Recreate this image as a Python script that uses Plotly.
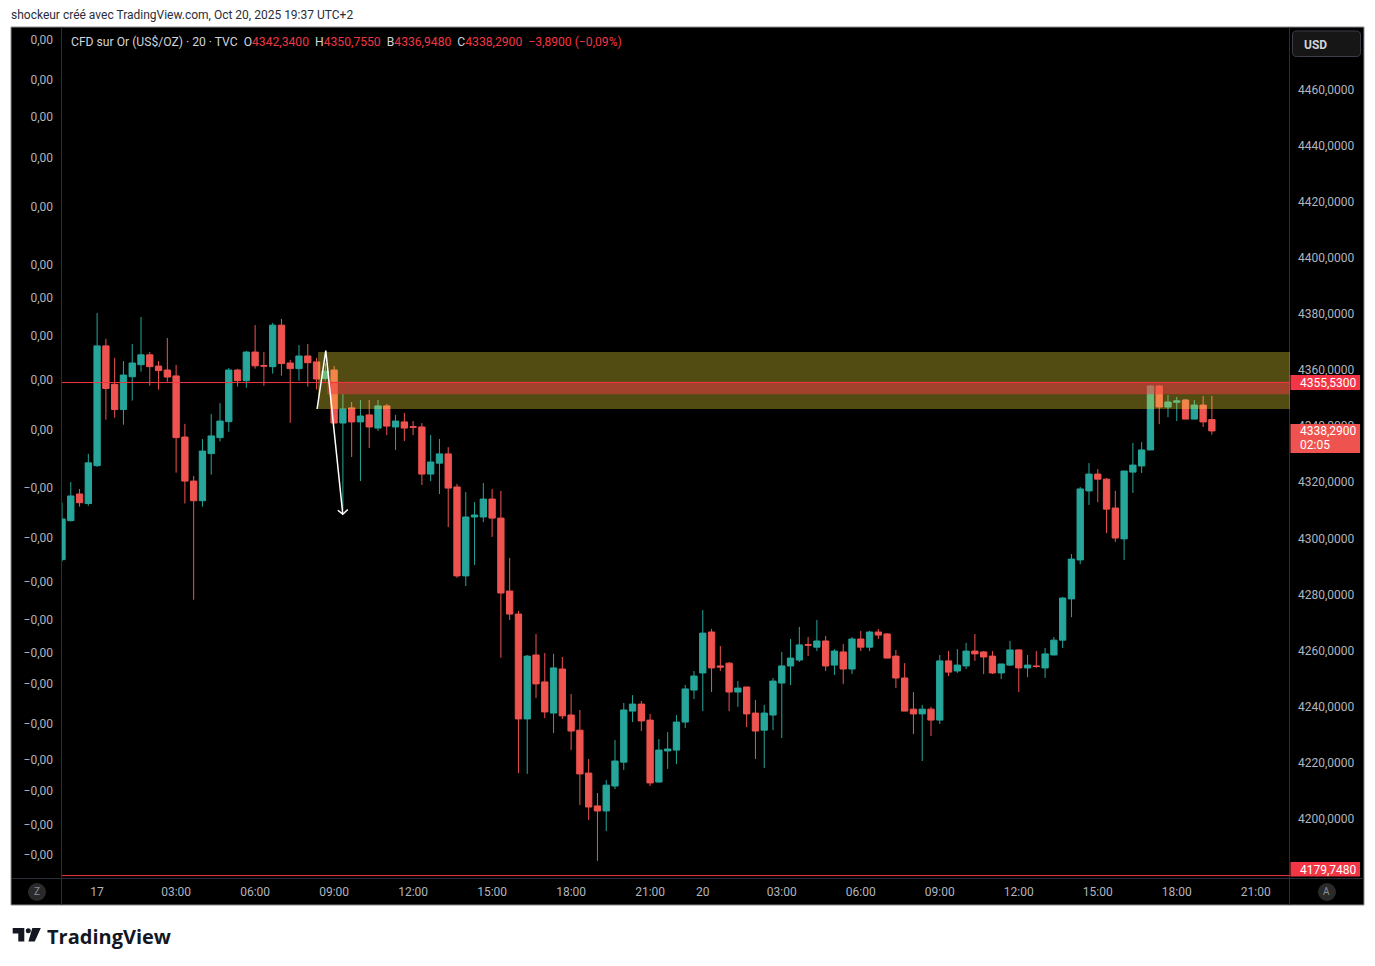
import plotly.graph_objects as go

# ---------------- data (20-minute candles, XAU/USD CFD) ----------------
bar_index = list(range(132))
open_ = [4292.4, 4306.3, 4315.8, 4312.4, 4325.9, 4368.6, 4354.9, 4345.9, 4357.6, 4361.9,
         4365.4, 4361.4, 4360.0, 4357.9, 4336.1, 4320.4, 4313.4, 4330.2, 4335.9, 4341.6,
         4360.0, 4356.2, 4366.4, 4361.6, 4361.2, 4376.0, 4362.5, 4360.5, 4365.0, 4362.9,
         4357.0, 4360.0, 4341.1, 4346.5, 4341.5, 4344.0, 4339.3, 4347.2, 4339.7, 4341.5,
         4339.8, 4339.7, 4322.9, 4326.8, 4330.1, 4318.3, 4286.6, 4307.6, 4307.6, 4314.0,
         4307.2, 4281.2, 4273.0, 4235.6, 4258.4, 4248.8, 4237.7, 4253.4, 4237.0, 4231.6,
         4216.3, 4204.6, 4202.8, 4211.7, 4220.2, 4238.4, 4240.9, 4235.2, 4213.1, 4224.2,
         4224.5, 4234.5, 4245.9, 4252.0, 4266.6, 4254.5, 4255.5, 4245.2, 4247.0, 4237.7,
         4231.6, 4237.0, 4248.4, 4254.5, 4256.6, 4262.1, 4261.2, 4263.4, 4254.8, 4259.5,
         4253.4, 4264.1, 4261.2, 4266.6, 4265.9, 4258.0, 4250.2, 4239.1, 4237.4, 4239.1,
         4235.2, 4256.3, 4252.7, 4254.5, 4259.8, 4259.5, 4258.0, 4252.0, 4254.8, 4260.2,
         4253.8, 4254.5, 4253.8, 4258.4, 4263.7, 4278.4, 4292.3, 4316.9, 4322.9, 4321.1,
         4310.8, 4299.8, 4323.6, 4325.8, 4331.5, 4354.3, 4346.8, 4348.5, 4349.3, 4342.5,
         4347.5, 4342.34]
high = [4312.7, 4320.1, 4317.6, 4330.1, 4380.3, 4371.1, 4364.3, 4363.2, 4369.3, 4378.9,
        4366.4, 4363.2, 4371.4, 4361.8, 4340.8, 4322.2, 4335.4, 4344.3, 4348.2, 4360.7,
        4360.4, 4366.8, 4376.0, 4366.4, 4376.8, 4378.2, 4363.6, 4368.9, 4369.3, 4364.3,
        4362.4, 4361.4, 4351.4, 4348.6, 4349.3, 4349.3, 4349.3, 4347.9, 4344.0, 4344.7,
        4341.8, 4341.1, 4336.8, 4335.4, 4332.5, 4319.4, 4316.5, 4312.9, 4319.7, 4317.6,
        4316.9, 4293.0, 4274.1, 4258.4, 4265.9, 4259.1, 4258.8, 4257.7, 4244.5, 4238.8,
        4221.3, 4209.2, 4213.8, 4228.1, 4241.3, 4244.1, 4242.0, 4237.4, 4228.4, 4230.9,
        4237.0, 4247.7, 4252.7, 4274.4, 4267.7, 4261.6, 4255.9, 4249.1, 4247.0, 4242.4,
        4240.6, 4250.2, 4259.5, 4264.1, 4268.4, 4264.8, 4270.9, 4265.2, 4260.5, 4262.3,
        4264.8, 4267.0, 4267.0, 4267.7, 4266.2, 4260.2, 4255.5, 4245.2, 4240.6, 4239.9,
        4258.4, 4259.8, 4260.5, 4262.7, 4265.9, 4259.8, 4259.8, 4255.2, 4263.4, 4260.5,
        4258.4, 4259.8, 4260.9, 4264.8, 4279.1, 4294.4, 4318.3, 4326.8, 4324.7, 4321.5,
        4316.9, 4324.0, 4334.0, 4334.3, 4354.7, 4354.7, 4351.1, 4350.4, 4349.7, 4349.3,
        4350.7, 4350.755]
low = [4291.7, 4306.0, 4311.3, 4311.6, 4325.5, 4342.3, 4343.0, 4340.5, 4349.1, 4359.4,
       4354.4, 4353.0, 4355.8, 4323.4, 4312.4, 4278.1, 4311.3, 4322.7, 4334.5, 4338.0,
       4354.1, 4353.7, 4360.5, 4354.4, 4358.7, 4358.0, 4341.2, 4356.2, 4354.1, 4353.0,
       4356.2, 4341.0, 4310.1, 4329.0, 4320.4, 4332.2, 4338.3, 4336.8, 4331.5, 4334.7,
       4336.8, 4319.0, 4320.4, 4315.8, 4304.0, 4285.9, 4283.0, 4290.5, 4305.8, 4300.5,
       4257.4, 4270.9, 4216.3, 4216.0, 4243.1, 4235.9, 4230.6, 4235.6, 4224.5, 4204.9,
       4199.6, 4185.0, 4195.6, 4210.6, 4217.4, 4234.5, 4231.3, 4211.7, 4213.1, 4217.8,
       4219.5, 4232.4, 4242.7, 4238.4, 4245.2, 4252.7, 4238.4, 4239.9, 4232.7, 4221.3,
       4218.1, 4231.6, 4228.8, 4247.7, 4255.9, 4258.0, 4259.8, 4252.7, 4251.3, 4248.1,
       4251.6, 4259.8, 4259.8, 4264.1, 4257.3, 4246.6, 4238.4, 4230.2, 4220.6, 4229.5,
       4233.8, 4250.9, 4252.0, 4253.4, 4256.3, 4251.6, 4251.6, 4249.8, 4254.5, 4245.2,
       4250.5, 4253.8, 4250.2, 4258.4, 4260.9, 4271.9, 4290.8, 4311.9, 4312.9, 4301.9,
       4298.7, 4292.3, 4316.2, 4323.3, 4331.5, 4340.7, 4343.2, 4341.8, 4342.5, 4342.5,
       4339.7, 4336.948]
close = [4306.9, 4315.1, 4312.7, 4326.9, 4368.6, 4353.4, 4345.9, 4358.2, 4362.5, 4365.4,
         4361.2, 4359.8, 4357.5, 4335.9, 4320.4, 4313.4, 4331.1, 4336.5, 4341.8, 4360.0,
         4356.2, 4366.4, 4361.5, 4361.4, 4376.0, 4362.3, 4360.5, 4365.0, 4362.6, 4356.8,
         4359.6, 4341.1, 4346.1, 4341.5, 4343.6, 4339.7, 4347.2, 4340.0, 4341.8, 4339.3,
         4339.6, 4322.9, 4327.2, 4330.1, 4317.9, 4286.6, 4307.6, 4308.3, 4314.0, 4307.2,
         4280.5, 4273.0, 4235.6, 4258.0, 4248.1, 4238.1, 4253.8, 4236.7, 4231.3, 4216.0,
         4204.2, 4202.8, 4212.0, 4220.6, 4238.8, 4240.9, 4234.9, 4212.8, 4224.5, 4224.9,
         4234.5, 4246.3, 4250.9, 4266.2, 4253.8, 4254.1, 4245.2, 4246.6, 4237.4, 4231.3,
         4237.7, 4249.1, 4254.5, 4257.3, 4262.0, 4261.9, 4263.4, 4254.5, 4259.8, 4253.4,
         4264.1, 4261.2, 4266.6, 4265.5, 4257.3, 4250.2, 4238.4, 4237.4, 4239.1, 4235.2,
         4256.3, 4252.3, 4254.8, 4259.8, 4258.8, 4257.7, 4252.0, 4255.2, 4260.2, 4253.8,
         4254.8, 4254.3, 4258.8, 4263.7, 4278.7, 4292.6, 4317.6, 4322.9, 4321.1, 4310.4,
         4300.1, 4324.0, 4326.1, 4331.5, 4354.3, 4346.8, 4348.6, 4349.0, 4342.5, 4347.5,
         4341.5, 4338.29]

time_tick_index = [4, 13, 22, 31, 40, 49, 58, 67, 73, 82, 91, 100, 109, 118, 127, 136]
time_tick_text = ["17", "03:00", "06:00", "09:00", "12:00", "15:00", "18:00", "21:00",
                  "20", "03:00", "06:00", "09:00", "12:00", "15:00", "18:00", "21:00"]
price_ticks = [4200, 4220, 4240, 4260, 4280, 4300, 4320, 4340, 4360, 4380, 4400, 4420, 4440, 4460]
price_tick_text = [f"{v},0000" for v in price_ticks]
left_tick_values = [4477.6, 4463.4, 4450.2, 4435.6, 4418.1, 4397.4, 4385.7, 4372.1, 4356.4, 4338.6,
                    4317.9, 4300.1, 4284.4, 4270.9, 4259.1, 4248.1, 4233.8, 4221.0, 4209.9, 4197.8, 4187.1]
left_tick_text = ["0,00"] * 10 + ["\u22120,00"] * 11

zone_low, zone_high, zone_start = 4346.1, 4366.4, 29.18
band_low, band_high, band_start = 4351.4, 4355.8, 30.2
level_price = 4355.53
low_level_price = 4179.748
arrow_x = [29.06, 30.05, 31.99]
arrow_y = [4346.1, 4366.9, 4308.6]
arrowhead_x = [31.42, 31.99, 32.56]
arrowhead_y = [4310.0, 4308.6, 4310.3]

# ---------------- geometry ----------------
W, H = 1375, 966
L, R, T, B = 62, 1290, 28, 878
XMIN, XMAX = 0.0, 139.9
YMIN, YMAX = 4178.9, 4481.93
FONT = "Roboto, sans-serif"
AXC = "#b2b5be"


def px(x):
    return (x - L) / (R - L)


def py(y):
    return (B - y) / (B - T)


def price_y(p):
    return T + (YMAX - p) / (YMAX - YMIN) * (B - T)


def rrect(x0, y0, x1, y1, r):
    pts = [("M", x0 + r, y0), ("L", x1 - r, y0), ("Q", x1, y0, x1, y0 + r), ("L", x1, y1 - r),
           ("Q", x1, y1, x1 - r, y1), ("L", x0 + r, y1), ("Q", x0, y1, x0, y1 - r), ("L", x0, y0 + r),
           ("Q", x0, y0, x0 + r, y0)]
    s = ""
    for p in pts:
        c = p[0]
        vals = p[1:]
        coords = []
        for k in range(0, len(vals), 2):
            coords.append(f"{px(vals[k]):.5f},{py(vals[k + 1]):.5f}")
        s += c + " " + " ".join(coords) + " "
    return s + "Z"


def poly(points):
    return "M " + " L ".join(f"{px(a):.5f},{py(b):.5f}" for a, b in points) + " Z"


fig = go.Figure()
fig.add_trace(go.Candlestick(
    x=bar_index, open=open_, high=high, low=low, close=close,
    increasing=dict(line=dict(color="#26a69a", width=1), fillcolor="#26a69a"),
    decreasing=dict(line=dict(color="#ef5350", width=1), fillcolor="#ef5350"),
    whiskerwidth=0, hoverinfo="skip", showlegend=False))
fig.add_trace(go.Scatter(x=[bar_index[0]], y=[close[0]], yaxis="y2", mode="markers",
                         marker=dict(opacity=0), hoverinfo="skip", showlegend=False))

shapes = []
# chart frame and panels
shapes.append(dict(type="rect", xref="paper", yref="paper", x0=px(11), x1=px(1364), y0=py(905), y1=py(27),
                   fillcolor="#000000", line=dict(color="#8c8c8c", width=1), layer="below"))
sep = "#2a2e39"
shapes.append(dict(type="line", xref="paper", yref="paper", x0=px(61.5), x1=px(61.5), y0=py(905), y1=py(27.5),
                   line=dict(color=sep, width=1)))
shapes.append(dict(type="line", xref="paper", yref="paper", x0=px(1289.5), x1=px(1289.5), y0=py(905), y1=py(27.5),
                   line=dict(color=sep, width=1)))
shapes.append(dict(type="line", xref="paper", yref="paper", x0=px(11.5), x1=px(1363.5), y0=py(878.5), y1=py(878.5),
                   line=dict(color=sep, width=1)))
# zone, band, levels
shapes.append(dict(type="rect", xref="x", yref="y", x0=zone_start, x1=XMAX, y0=zone_low, y1=zone_high,
                   fillcolor="rgba(255,235,59,0.32)", line=dict(width=0), layer="above"))
shapes.append(dict(type="rect", xref="x", yref="y", x0=band_start, x1=XMAX, y0=band_low, y1=band_high,
                   fillcolor="rgba(242,54,69,0.5)", line=dict(width=0), layer="above"))
shapes.append(dict(type="line", xref="x", yref="y", x0=XMIN, x1=XMAX, y0=level_price, y1=level_price,
                   line=dict(color="#f23645", width=1), layer="above"))
shapes.append(dict(type="line", xref="x", yref="y", x0=XMIN, x1=XMAX, y0=low_level_price, y1=low_level_price,
                   line=dict(color="#f23645", width=1), layer="above"))
# drawn arrow
arrow_path = "M " + " L ".join(f"{a},{b}" for a, b in zip(arrow_x, arrow_y))
head_path = "M " + " L ".join(f"{a},{b}" for a, b in zip(arrowhead_x, arrowhead_y))
shapes.append(dict(type="path", xref="x", yref="y", path=arrow_path, line=dict(color="#ffffff", width=1.5),
                   layer="above"))
shapes.append(dict(type="path", xref="x", yref="y", path=head_path, line=dict(color="#ffffff", width=1.5),
                   layer="above"))
# price labels boxes
ly = price_y(level_price)
shapes.append(dict(type="rect", xref="paper", yref="paper", x0=px(1290.5), x1=px(1360), y0=py(ly + 7.5),
                   y1=py(ly - 7.5), fillcolor="#f23645", line=dict(width=0)))
cy = price_y(close[-1])
shapes.append(dict(type="rect", xref="paper", yref="paper", x0=px(1290.5), x1=px(1360), y0=py(cy + 22),
                   y1=py(cy - 7), fillcolor="#ef5350", line=dict(width=0)))
shapes.append(dict(type="rect", xref="paper", yref="paper", x0=px(1290.5), x1=px(1360), y0=py(876.5),
                   y1=py(862), fillcolor="#f23645", line=dict(width=0)))
# USD button
shapes.append(dict(type="path", xref="paper", yref="paper", path=rrect(1292.5, 31, 1360.5, 56.5, 4),
                   fillcolor="#161616", line=dict(color="#3c3f47", width=1)))
# Z and A circles
for cxp in (37, 1327):
    shapes.append(dict(type="circle", xref="paper", yref="paper", x0=px(cxp - 9), x1=px(cxp + 9),
                       y0=py(892 + 9), y1=py(892 - 9), fillcolor="#2a2a2a", line=dict(width=0)))
# TradingView logo glyph
shapes.append(dict(type="path", xref="paper", yref="paper",
                   path=poly([(12.7, 928), (24.3, 928), (24.3, 941.5), (18.3, 941.5), (18.3, 933.5), (12.7, 933.5)]),
                   fillcolor="#131722", line=dict(width=0)))
shapes.append(dict(type="circle", xref="paper", yref="paper", x0=px(25.8), x1=px(30.8), y0=py(933.2),
                   y1=py(928.2), fillcolor="#131722", line=dict(width=0)))
shapes.append(dict(type="path", xref="paper", yref="paper",
                   path=poly([(32.3, 928), (40.8, 928), (34.8, 941.5), (28.4, 941.5)]),
                   fillcolor="#131722", line=dict(width=0)))

ann = []


def add_text(text, x, y, size=12, color=AXC, anchor="left", family=FONT, weight="normal"):
    ann.append(dict(text=text, xref="paper", yref="paper", x=px(x), y=py(y), xanchor=anchor, yanchor="middle",
                    showarrow=False, font=dict(family=family, size=size, color=color, weight=weight)))


add_text("shockeur créé avec TradingView.com, Oct 20, 2025 19:37 UTC+2", 9, 15, size=12, color="#2a2e39")
red = "#f23645"
lt = "#d1d4dc"
legend = (f"<span style='color:{lt}'>CFD sur Or (US$/OZ) · 20 · TVC</span>\u00a0\u00a0"
          f"<span style='color:{lt}'>O</span><span style='color:{red}'>{open_[-1]:.4f}</span>\u00a0\u00a0"
          f"<span style='color:{lt}'>H</span><span style='color:{red}'>{high[-1]:.4f}</span>\u00a0\u00a0"
          f"<span style='color:{lt}'>B</span><span style='color:{red}'>{low[-1]:.4f}</span>\u00a0\u00a0"
          f"<span style='color:{lt}'>C</span><span style='color:{red}'>{close[-1]:.4f}</span>\u00a0\u00a0"
          f"<span style='color:{red}'>\u22123,8900 (\u22120,09%)</span>").replace(".", ",")
add_text(legend, 69, 42, size=12.15)
add_text("USD", 1302, 45, size=12, color="#d1d4dc", weight="bold")
add_text(f"{level_price:.4f}".replace(".", ","), 1297.5, ly + 0.5, size=12, color="#ffffff")
add_text(f"{close[-1]:.4f}".replace(".", ","), 1297.5, cy + 0.5, size=12, color="#ffffff")
add_text("02:05", 1297.5, cy + 14.5, size=12, color="#ffffff")
add_text(f"{low_level_price:.4f}".replace(".", ","), 1297.5, 869.5, size=12, color="#ffffff")
add_text("Z", 37, 892, size=10, color="#8a8d96", anchor="center")
add_text("A", 1327, 892, size=10, color="#8a8d96", anchor="center")
add_text("TradingView", 45, 936, size=20, color="#131722", family="Open Sans, sans-serif", weight="bold")

axis_font = dict(family=FONT, size=12, color=AXC)
fig.update_layout(
    width=W, height=H, margin=dict(l=L, r=W - R, t=T, b=H - B, pad=0),
    paper_bgcolor="#ffffff", plot_bgcolor="#000000", showlegend=False, hovermode=False,
    boxgap=0.2, boxgroupgap=0.1,
    xaxis=dict(range=[XMIN, XMAX], tickmode="array", tickvals=time_tick_index, ticktext=time_tick_text,
               showgrid=False, zeroline=False, showline=False, ticks="", tickfont=axis_font,
               rangeslider=dict(visible=False), fixedrange=True, ticklabelstandoff=5),
    yaxis=dict(range=[YMIN, YMAX], side="right", tickmode="array", tickvals=price_ticks, ticktext=price_tick_text,
               showgrid=False, zeroline=False, showline=False, ticks="", tickfont=axis_font, fixedrange=True,
               ticklabelstandoff=7),
    yaxis2=dict(range=[YMIN, YMAX], overlaying="y", side="left", tickmode="array", tickvals=left_tick_values,
                ticktext=left_tick_text, showgrid=False, zeroline=False, showline=False, ticks="",
                tickfont=axis_font, fixedrange=True, ticklabelstandoff=8),
    shapes=shapes, annotations=ann,
)

fig.write_html("out.html", config={"displayModeBar": False},
               post_script="document.body.style.margin='0';document.body.style.overflow='hidden';")
